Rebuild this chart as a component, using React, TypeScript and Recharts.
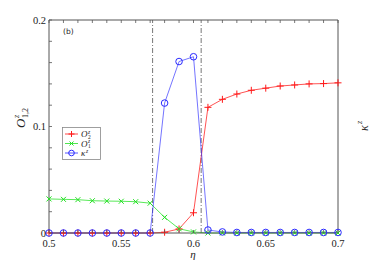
import React from 'react';
import { ComposedChart, Line, XAxis, YAxis, ReferenceLine, Legend } from 'recharts';

const eta = [0.5, 0.51, 0.52, 0.53, 0.54, 0.55, 0.56, 0.57, 0.58, 0.59, 0.6, 0.61, 0.62, 0.63, 0.64, 0.65, 0.66, 0.67, 0.68, 0.69, 0.7];
const o2z = [0, 0, 0, 0, 0, 0, 0, 0, 0.0007, 0.0038, 0.019, 0.118, 0.1255, 0.1305, 0.134, 0.136, 0.138, 0.139, 0.14, 0.1403, 0.141];
const o1z = [0.032, 0.0316, 0.0313, 0.0303, 0.03, 0.0298, 0.0294, 0.028, 0.0147, 0.004, 0.001, 0, 0, 0, 0, 0, 0, 0, 0, 0, 0];
const kappa = [0, 0, 0, 0, 0, 0, 0, 0, 0.122, 0.161, 0.1655, 0.0028, 0.001, 0.0005, 0.0005, 0.0005, 0.0005, 0.0005, 0.0005, 0.0005, 0.0005];
const transitions = [0.5717, 0.6053];
const xTicks = [0.5, 0.51, 0.52, 0.53, 0.54, 0.55, 0.56, 0.57, 0.58, 0.59, 0.6, 0.61, 0.62, 0.63, 0.64, 0.65, 0.66, 0.67, 0.68, 0.69, 0.7];
const xLabels = ['0.5', '0.55', '0.6', '0.65', '0.7'];
const yTicks = [0, 0.02, 0.04, 0.06, 0.08, 0.1, 0.12, 0.14, 0.16, 0.18, 0.2];
const yLabels = ['0', '0.1', '0.2'];

const data = eta.map((e, i) => ({ eta: e, o2: o2z[i], o1: o1z[i], k: kappa[i] }));

const AXIS = '#555';
const FONT = "'Liberation Serif', 'Times New Roman', serif";
const SERIF = { fontFamily: FONT };
const TXT = '#222';
const RED = '#ff1a1a';
const GREEN = '#22e022';
const BLUE = '#2a2aff';

const fmt = (v: number, labels: string[]) => {
  const s = String(Math.round(v * 1000) / 1000);
  return labels.includes(s) ? s : '';
};

const BottomTick = (p: any) => {
  const t = fmt(p.payload.value, xLabels);
  return (
    <g>
      <line x1={p.x} y1={p.y} x2={p.x} y2={p.y - 3} stroke={AXIS} strokeWidth={0.8} />
      {t && <text x={p.x} y={p.y + 13.5} textAnchor="middle" style={SERIF} fontSize={10.5} fill={TXT}>{t}</text>}
    </g>
  );
};
const TopTick = (p: any) => (
  <line x1={p.x} y1={p.y} x2={p.x} y2={p.y + 3} stroke={AXIS} strokeWidth={0.8} />
);
const LeftTick = (p: any) => {
  const t = fmt(p.payload.value, yLabels);
  return (
    <g>
      <line x1={p.x} y1={p.y} x2={p.x + 3} y2={p.y} stroke={AXIS} strokeWidth={0.8} />
      {t && <text x={p.x - 3} y={p.y + 3.5} textAnchor="end" style={SERIF} fontSize={10.5} fill={TXT}>{t}</text>}
    </g>
  );
};
const RightTick = (p: any) => {
  const t = fmt(p.payload.value, yLabels);
  return (
    <g>
      <line x1={p.x} y1={p.y} x2={p.x - 3} y2={p.y} stroke={AXIS} strokeWidth={0.8} />
      {t && <text x={p.x + 4} y={p.y + 3.5} textAnchor="start" style={SERIF} fontSize={10.5} fill={TXT}>{t}</text>}
    </g>
  );
};

const PlusDot = (p: any) => {
  const { cx, cy } = p;
  if (cx == null || cy == null) return <g key={p.key} />;
  return (
    <g key={p.key}>
      <line x1={cx - 3.5} y1={cy} x2={cx + 3.5} y2={cy} stroke={RED} strokeWidth={1} />
      <line x1={cx} y1={cy - 3.5} x2={cx} y2={cy + 3.5} stroke={RED} strokeWidth={1} />
    </g>
  );
};
const CrossDot = (p: any) => {
  const { cx, cy } = p;
  if (cx == null || cy == null) return <g key={p.key} />;
  return (
    <g key={p.key}>
      <line x1={cx - 2.5} y1={cy - 2.5} x2={cx + 2.5} y2={cy + 2.5} stroke={GREEN} strokeWidth={1} />
      <line x1={cx - 2.5} y1={cy + 2.5} x2={cx + 2.5} y2={cy - 2.5} stroke={GREEN} strokeWidth={1} />
    </g>
  );
};
const CircleDot = (p: any) => {
  const { cx, cy } = p;
  if (cx == null || cy == null) return <g key={p.key} />;
  return <circle key={p.key} cx={cx} cy={cy} r={3.3} fill="none" stroke={BLUE} strokeWidth={1} />;
};

const legendRows = [
  { name: 'O', sub: '2', sup: 'z', color: RED, marker: 'plus' },
  { name: 'O', sub: '1', sup: 'z', color: GREEN, marker: 'cross' },
  { name: 'κ', sub: '', sup: 'z', color: BLUE, marker: 'circle' },
];

const LegendBox = () => (
  <svg width={39} height={33} style={{ display: 'block' }}>
    <rect x={0.5} y={0.5} width={38} height={32} fill="#fff" stroke="#888" strokeWidth={0.8} />
    {legendRows.map((r, i) => {
      const y = 7 + i * 9.5;
      return (
        <g key={i}>
          <line x1={3} y1={y} x2={16} y2={y} stroke={r.color} strokeWidth={0.8} />
          {r.marker === 'plus' && (
            <g>
              <line x1={6.5} y1={y} x2={12.5} y2={y} stroke={r.color} />
              <line x1={9.5} y1={y - 3} x2={9.5} y2={y + 3} stroke={r.color} />
            </g>
          )}
          {r.marker === 'cross' && (
            <g>
              <line x1={7.5} y1={y - 2} x2={11.5} y2={y + 2} stroke={r.color} />
              <line x1={7.5} y1={y + 2} x2={11.5} y2={y - 2} stroke={r.color} />
            </g>
          )}
          {r.marker === 'circle' && <circle cx={9.5} cy={y} r={2.8} fill="none" stroke={r.color} />}
          <text x={19} y={y + 3} style={SERIF} fontStyle="italic" fontSize={9} fill={TXT}>{r.name}</text>
          <text x={r.name === 'O' ? 26 : 24} y={y - 0.5} style={SERIF} fontStyle="italic" fontSize={5.5} fill={TXT}>{r.sup}</text>
          {r.sub && <text x={26} y={y + 4.5} style={SERIF} fontSize={5.5} fill={TXT}>{r.sub}</text>}
        </g>
      );
    })}
  </svg>
);

export default function App() {
  return (
    <div style={{ position: 'absolute', left: 0, top: 0, width: 374, height: 262, background: '#fff' }}>
      <ComposedChart width={374} height={262} data={data} margin={{ top: 0, right: 0, bottom: 0, left: 0 }}>
        <XAxis
          dataKey="eta"
          type="number"
          domain={[0.5, 0.7]}
          ticks={xTicks}
          interval={0}
          height={29}
          tickSize={0}
          tickMargin={0}
          tickLine={false}
          tick={<BottomTick />}
          axisLine={{ stroke: AXIS }}
        />
        <XAxis
          xAxisId="top"
          orientation="top"
          dataKey="eta"
          type="number"
          domain={[0.5, 0.7]}
          ticks={xTicks}
          interval={0}
          height={20}
          tickSize={0}
          tickMargin={0}
          tickLine={false}
          tick={<TopTick />}
          axisLine={{ stroke: AXIS }}
        />
        <YAxis
          domain={[0, 0.2]}
          ticks={yTicks}
          interval={0}
          width={49}
          tickSize={0}
          tickMargin={0}
          tickLine={false}
          tick={<LeftTick />}
          axisLine={{ stroke: AXIS }}
        />
        <YAxis
          yAxisId="right"
          orientation="right"
          domain={[0, 0.2]}
          ticks={yTicks}
          interval={0}
          width={36}
          tickSize={0}
          tickMargin={0}
          tickLine={false}
          tick={<RightTick />}
          axisLine={{ stroke: AXIS }}
        />
        {transitions.map((t) => (
          <ReferenceLine key={t} x={t} stroke="#777" strokeWidth={1} strokeDasharray="5 2 1 2" />
        ))}
        <Line type="linear" dataKey="o2" stroke={RED} strokeOpacity={0.75} strokeWidth={1} dot={<PlusDot />} activeDot={false} isAnimationActive={false} />
        <Line type="linear" dataKey="o1" stroke={GREEN} strokeOpacity={0.75} strokeWidth={1} dot={<CrossDot />} activeDot={false} isAnimationActive={false} />
        <Line type="linear" dataKey="k" stroke={BLUE} strokeOpacity={0.65} strokeWidth={1} dot={<CircleDot />} activeDot={false} isAnimationActive={false} />
        <Legend
          layout="horizontal"
          verticalAlign="middle"
          align="center"
          content={() => <LegendBox />}
          wrapperStyle={{ left: 62, top: 127, width: 39, height: 33 }}
        />
      </ComposedChart>
      <svg width={374} height={262} style={{ position: 'absolute', left: 0, top: 0, pointerEvents: 'none' }}>
        <text x={63} y={34} style={{ fontFamily: "'DejaVu Sans', sans-serif" }} fontSize={7.5} fill={TXT}>(b)</text>
        <text x={193} y={258} textAnchor="middle" style={SERIF} fontStyle="italic" fontSize={11} fill={TXT}>η</text>
        <g transform="translate(25,128) rotate(-90)">
          <text x={0} y={0} style={SERIF} fontStyle="italic" fontSize={13} fill={TXT}>O</text>
          <text x={10} y={-6} style={SERIF} fontStyle="italic" fontSize={8} fill={TXT}>z</text>
          <text x={10} y={3} style={SERIF} fontSize={8} fill={TXT}>1,2</text>
        </g>
        <g transform="translate(368,131) rotate(-90)">
          <text x={0} y={0} style={SERIF} fontStyle="italic" fontSize={12} fill={TXT}>κ</text>
          <text x={7} y={-6} style={SERIF} fontStyle="italic" fontSize={8} fill={TXT}>z</text>
        </g>
      </svg>
    </div>
  );
}
